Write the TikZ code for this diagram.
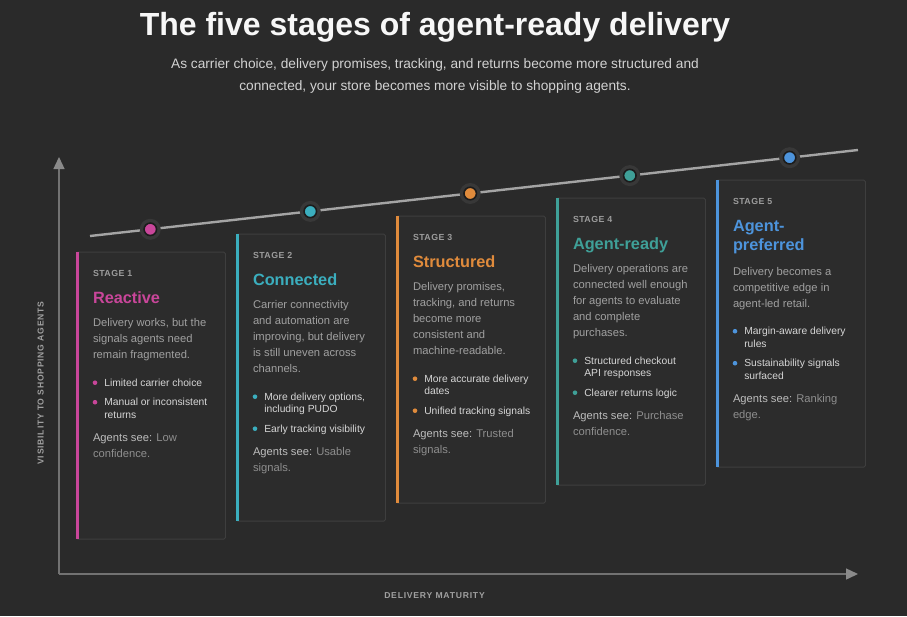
\documentclass[tikz,border=0pt]{standalone}
\usepackage{fontspec}
\setmainfont{Liberation Sans}
\newfontfamily\trackfont[LetterSpace=9]{Liberation Sans}
\newfontfamily\stagefont[LetterSpace=5]{Liberation Sans}
\usetikzlibrary{arrows.meta}
\definecolor{bg}{HTML}{2A2A2A}
\definecolor{cardfill}{HTML}{2C2C2C}
\definecolor{cardline}{HTML}{3E3E3E}
\definecolor{titlewhite}{HTML}{F7F7F7}
\definecolor{subgray}{HTML}{D2D2D2}
\definecolor{stagegray}{HTML}{9C9C9C}
\definecolor{descgray}{HTML}{A0A0A0}
\definecolor{bulletgray}{HTML}{D6D6D6}
\definecolor{agentgray}{HTML}{8E8E8E}
\definecolor{agentsee}{HTML}{BDBDBD}
\definecolor{axisgray}{HTML}{727272}
\definecolor{arrowgray}{HTML}{8A8A8A}
\definecolor{axislbl}{HTML}{A0A0A0}
\definecolor{trendgray}{HTML}{A4A4A4}
\definecolor{halo}{HTML}{383838}
\definecolor{dotring}{HTML}{1C1C1C}
\definecolor{pinkc}{HTML}{C9469A}
\definecolor{cyanc}{HTML}{3BAEBE}
\definecolor{orangec}{HTML}{E08B3C}
\definecolor{tealc}{HTML}{3FA098}
\definecolor{bluec}{HTML}{4D94DC}
\begin{document}
\begin{tikzpicture}[x=1pt,y=-1pt,
  card/.style={draw=cardline, fill=cardfill, line width=0.8pt, rounded corners=1.5pt,
    minimum width=149pt, minimum height=287pt, anchor=north west, inner sep=0pt},
  txt/.style={anchor=base west, inner sep=0pt, outer sep=0pt},
  stagelbl/.style={txt, font=\stagefont\bfseries\fontsize{8.8}{10}\selectfont, text=stagegray},
  ttl/.style={txt, font=\fontsize{16.3}{18}\selectfont\bfseries},
  dsc/.style={txt, font=\fontsize{11.2}{16}\selectfont, text=descgray},
  blt/.style={txt, font=\fontsize{10.3}{12}\selectfont, text=bulletgray},
  agt/.style={txt, font=\fontsize{11.2}{16}\selectfont, text=agentgray},
  axislabel/.style={inner sep=0pt, font=\trackfont\bfseries\fontsize{8.6}{10}\selectfont, text=axislbl},
  axis/.style={draw=axisgray, line width=1.4pt, -{Triangle[length=12pt,width=11pt,color=arrowgray]}},
  trend/.style={draw=trendgray, line width=2.4pt},
  dot/.style={circle, fill=#1, draw=dotring, line width=1.6pt, minimum size=12.5pt, inner sep=0pt},
]
\fill[bg] (0,0) rectangle (907,616);
\useasboundingbox (0,0) rectangle (907,616);

% title
\node[anchor=base, inner sep=0pt, font=\fontsize{32}{36}\selectfont\bfseries, text=titlewhite] (title) at (435,35) {The five stages of agent-ready delivery};
\node[anchor=base, inner sep=0pt, font=\fontsize{13.7}{16}\selectfont, text=subgray] (sub1) at (435,68.5) {As carrier choice, delivery promises, tracking, and returns become more structured and};
\node[anchor=base, inner sep=0pt, font=\fontsize{13.7}{16}\selectfont, text=subgray] (sub2) at (435,90.5) {connected, your store becomes more visible to shopping agents.};

% axes
\coordinate (origin) at (59,574);
\coordinate (ytip) at (59,157);
\coordinate (xtip) at (858,574);
\draw[axis] (origin) -- (ytip);
\draw[axis] (origin) -- (xtip);
\node[axislabel, rotate=90] (ylabel) at (40.7,383) {VISIBILITY TO SHOPPING AGENTS};
\node[axislabel, anchor=base] (xlabel) at (434.5,598) {DELIVERY MATURITY};

% trend line and dots
\coordinate (t0) at (90,236);
\coordinate (t1) at (858,150);
\draw[trend] (t0) -- (t1);
\coordinate (p1) at (150.3,229.3);
\coordinate (p2) at (310.3,211.4);
\coordinate (p3) at (470.2,193.5);
\coordinate (p4) at (629.8,175.6);
\coordinate (p5) at (789.6,157.7);
\foreach \p in {p1,p2,p3,p4,p5} {\fill[halo] (\p) circle (10.5pt);}
\node[dot=pinkc] (d1) at (p1) {};
\node[dot=cyanc] (d2) at (p2) {};
\node[dot=orangec] (d3) at (p3) {};
\node[dot=tealc] (d4) at (p4) {};
\node[dot=bluec] (d5) at (p5) {};

% ---------- card 1
\node[card] (card1) at (76,251.7) {};
\fill[pinkc] (card1.north west) rectangle ++(3,287);
\begin{scope}[shift={(76,251.7)}]
\node[stagelbl] (c1s) at (17,24.3) {STAGE 1};
\node[ttl,text=pinkc] (c1t) at (17,51.6) {Reactive};
\node[dsc] (c1d1) at (17,75) {Delivery works, but the};
\node[dsc] (c1d2) at (17,91) {signals agents need};
\node[dsc] (c1d3) at (17,107) {remain fragmented.};
\fill[pinkc] (19,131) circle (2.3pt);
\node[blt] (c1b1) at (28.3,134.5) {Limited carrier choice};
\fill[pinkc] (19,150.5) circle (2.3pt);
\node[blt] (c1b2) at (28.3,154) {Manual or inconsistent};
\node[blt] (c1b3) at (28.3,166.5) {returns};
\node[agt] (c1a1) at (17,190) {\textcolor{agentsee}{Agents see:} Low};
\node[agt] (c1a2) at (17,206) {confidence.};
\end{scope}

% ---------- card 2
\node[card] (card2) at (236,233.7) {};
\fill[cyanc] (card2.north west) rectangle ++(3,287);
\begin{scope}[shift={(236,233.7)}]
\node[stagelbl] (c2s) at (17,24.3) {STAGE 2};
\node[ttl,text=cyanc] (c2t) at (17,51.6) {Connected};
\node[dsc] (c2d1) at (17,75) {Carrier connectivity};
\node[dsc] (c2d2) at (17,91) {and automation are};
\node[dsc] (c2d3) at (17,107) {improving, but delivery};
\node[dsc] (c2d4) at (17,123) {is still uneven across};
\node[dsc] (c2d5) at (17,139) {channels.};
\fill[cyanc] (19,163) circle (2.3pt);
\node[blt] (c2b1) at (28.3,166.5) {More delivery options,};
\node[blt] (c2b2) at (28.3,179) {including PUDO};
\fill[cyanc] (19,195) circle (2.3pt);
\node[blt] (c2b3) at (28.3,198.5) {Early tracking visibility};
\node[agt] (c2a1) at (17,222) {\textcolor{agentsee}{Agents see:} Usable};
\node[agt] (c2a2) at (17,238) {signals.};
\end{scope}

% ---------- card 3
\node[card] (card3) at (396,215.7) {};
\fill[orangec] (card3.north west) rectangle ++(3,287);
\begin{scope}[shift={(396,215.7)}]
\node[stagelbl] (c3s) at (17,24.3) {STAGE 3};
\node[ttl,text=orangec] (c3t) at (17,51.6) {Structured};
\node[dsc] (c3d1) at (17,75) {Delivery promises,};
\node[dsc] (c3d2) at (17,91) {tracking, and returns};
\node[dsc] (c3d3) at (17,107) {become more};
\node[dsc] (c3d4) at (17,123) {consistent and};
\node[dsc] (c3d5) at (17,139) {machine-readable.};
\fill[orangec] (19,163) circle (2.3pt);
\node[blt] (c3b1) at (28.3,166.5) {More accurate delivery};
\node[blt] (c3b2) at (28.3,179) {dates};
\fill[orangec] (19,195) circle (2.3pt);
\node[blt] (c3b3) at (28.3,198.5) {Unified tracking signals};
\node[agt] (c3a1) at (17,222) {\textcolor{agentsee}{Agents see:} Trusted};
\node[agt] (c3a2) at (17,238) {signals.};
\end{scope}

% ---------- card 4
\node[card] (card4) at (556,197.7) {};
\fill[tealc] (card4.north west) rectangle ++(3,287);
\begin{scope}[shift={(556,197.7)}]
\node[stagelbl] (c4s) at (17,24.3) {STAGE 4};
\node[ttl,text=tealc] (c4t) at (17,51.6) {Agent-ready};
\node[dsc] (c4d1) at (17,75) {Delivery operations are};
\node[dsc] (c4d2) at (17,91) {connected well enough};
\node[dsc] (c4d3) at (17,107) {for agents to evaluate};
\node[dsc] (c4d4) at (17,123) {and complete};
\node[dsc] (c4d5) at (17,139) {purchases.};
\fill[tealc] (19,163) circle (2.3pt);
\node[blt] (c4b1) at (28.3,166.5) {Structured checkout};
\node[blt] (c4b2) at (28.3,179) {API responses};
\fill[tealc] (19,195) circle (2.3pt);
\node[blt] (c4b3) at (28.3,198.5) {Clearer returns logic};
\node[agt] (c4a1) at (17,222) {\textcolor{agentsee}{Agents see:} Purchase};
\node[agt] (c4a2) at (17,238) {confidence.};
\end{scope}

% ---------- card 5
\node[card] (card5) at (716,179.7) {};
\fill[bluec] (card5.north west) rectangle ++(3,287);
\begin{scope}[shift={(716,179.7)}]
\node[stagelbl] (c5s) at (17,24.3) {STAGE 5};
\node[ttl,text=bluec] (c5t1) at (17,51.6) {Agent-};
\node[ttl,text=bluec] (c5t2) at (17,70.3) {preferred};
\node[dsc] (c5d1) at (17,95.5) {Delivery becomes a};
\node[dsc] (c5d2) at (17,111.5) {competitive edge in};
\node[dsc] (c5d3) at (17,127.5) {agent-led retail.};
\fill[bluec] (19,151.5) circle (2.3pt);
\node[blt] (c5b1) at (28.3,155) {Margin-aware delivery};
\node[blt] (c5b2) at (28.3,167.5) {rules};
\fill[bluec] (19,183.5) circle (2.3pt);
\node[blt] (c5b3) at (28.3,187) {Sustainability signals};
\node[blt] (c5b4) at (28.3,199.5) {surfaced};
\node[agt] (c5a1) at (17,223) {\textcolor{agentsee}{Agents see:} Ranking};
\node[agt] (c5a2) at (17,239) {edge.};
\end{scope}
\end{tikzpicture}
\end{document}
